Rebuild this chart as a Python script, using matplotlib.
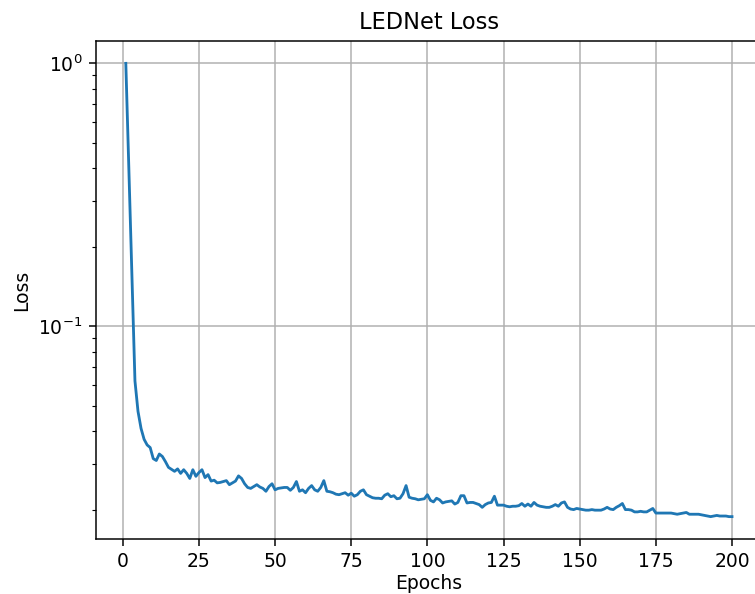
import numpy as np
import matplotlib
matplotlib.use('Agg')
import matplotlib.pyplot as plt

# loss per epoch
epochs = list(range(1, 201))

loss_1_50 = [1.0, 0.40, 0.158, 0.062, 0.0475, 0.0409, 0.0372, 0.0354, 0.0346, 0.0314,
             0.0309, 0.0327, 0.0320, 0.0306, 0.0291, 0.0286, 0.0281, 0.0287, 0.0276, 0.0285,
             0.0276, 0.0264, 0.0285, 0.0269, 0.0278, 0.0285, 0.0266, 0.0273, 0.0258, 0.0260,
             0.0254, 0.0255, 0.0257, 0.0259, 0.0250, 0.0254, 0.0258, 0.0270, 0.0264, 0.0252,
             0.0244, 0.0242, 0.0246, 0.0250, 0.0245, 0.0242, 0.0236, 0.0246, 0.0252, 0.0239]

loss_51_100 = [0.0242, 0.0243, 0.0244, 0.0244, 0.0238, 0.0244, 0.0257, 0.0236, 0.0239, 0.0233,
               0.0242, 0.0248, 0.0239, 0.0236, 0.0244, 0.0259, 0.0236, 0.0235, 0.0233, 0.0230,
               0.0229, 0.0231, 0.0233, 0.0228, 0.0232, 0.0226, 0.0229, 0.0236, 0.0239, 0.0229,
               0.0226, 0.0223, 0.0222, 0.0222, 0.0221, 0.0228, 0.0231, 0.0225, 0.0227, 0.0221,
               0.0222, 0.0231, 0.0248, 0.0224, 0.0222, 0.0221, 0.0219, 0.0220, 0.0221, 0.0229]

loss_101_150 = [0.0218, 0.0215, 0.0222, 0.0219, 0.0213, 0.0215, 0.0216, 0.0217, 0.0211, 0.0214,
                0.0227, 0.0227, 0.0213, 0.0214, 0.0214, 0.0212, 0.0210, 0.0205, 0.0210, 0.0213,
                0.0214, 0.0226, 0.0209, 0.0209, 0.0209, 0.0207, 0.0206, 0.0207, 0.0207, 0.0208,
                0.0212, 0.0207, 0.0211, 0.0207, 0.0214, 0.0209, 0.0207, 0.0206, 0.0205, 0.0205,
                0.0207, 0.0210, 0.0207, 0.0213, 0.0215, 0.0205, 0.0202, 0.0201, 0.0203, 0.0202]

loss_151_200 = [0.0201, 0.0200, 0.0200, 0.0201, 0.0200, 0.0200, 0.0200, 0.0202, 0.0205, 0.0202,
                0.0201, 0.0205, 0.0208, 0.0212, 0.0201, 0.0201, 0.0200, 0.0197, 0.0197, 0.0198,
                0.0197, 0.0197, 0.0200, 0.0203, 0.0195, 0.0195, 0.0195, 0.0195, 0.0195, 0.0195,
                0.0194, 0.0193, 0.0194, 0.0195, 0.0196, 0.0193, 0.0193, 0.0193, 0.0193, 0.0192,
                0.0191, 0.0190, 0.0189, 0.0190, 0.0191, 0.0190, 0.0190, 0.0190, 0.0189, 0.0189]

loss = loss_1_50 + loss_51_100 + loss_101_150 + loss_151_200

fig = plt.figure(figsize=(755 / 135, 594 / 135), dpi=135)
ax = fig.add_axes([0.1265, 0.0921, 0.8832, 0.8394])

ax.plot(epochs, loss)
ax.set_yscale('log')
ax.grid(True)

ax.set_title('LEDNet Loss')
# slightly tighter pad so the label stays inside the canvas
ax.set_xlabel('Epochs', labelpad=1.5)
ax.set_ylabel('Loss')

fig.savefig('out.png', dpi=135)
